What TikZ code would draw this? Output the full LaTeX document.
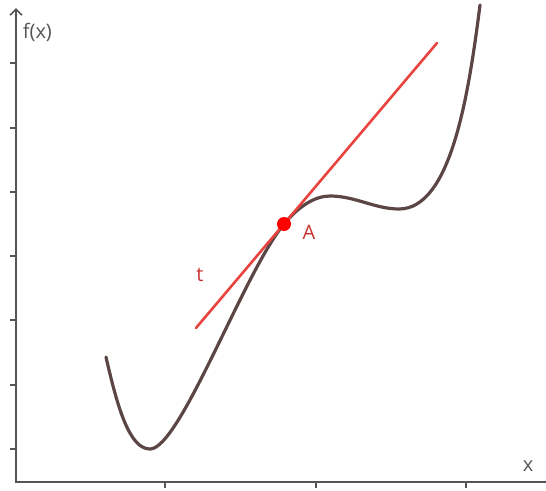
\documentclass[tikz,border=0pt]{standalone}
\usepackage{fontspec}
\setmainfont{Open Sans}
\usetikzlibrary{arrows.meta}
\definecolor{curva}{HTML}{5C4545}
\definecolor{tangente}{HTML}{E8433E}
\definecolor{etiqueta}{HTML}{C8332E}
\definecolor{eje}{HTML}{555555}

\begin{document}
\begin{tikzpicture}[x=1pt, y=-1pt, >={Straight Barb[length=6pt,width=12pt]}, line width=1.6pt]
        \useasboundingbox (0,0) rectangle (546,490);
        % Ejes coordenados
        \draw[->, eje] (16,483) -- (16,8);
        \draw[eje] (16,482) -- (546,482);
        
        % Marcas de los ejes
        \foreach \y in {63,128,192,256,320,385,449} \draw[eje] (10,\y) -- (16,\y);
        \foreach \x in {165,316,466} \draw[eje] (\x,482) -- (\x,488);
        \node[eje, anchor=west, inner sep=0pt, font=\fontsize{20}{20}\selectfont] (fx) at (22,32) {f(x)};
        \node[eje, inner sep=0pt, font=\fontsize{20}{20}\selectfont] (ex) at (528,466) {x};
        
        % Grafica de la funcion
        \draw[curva, line width=3.2pt, line cap=round] (106,357)
            .. controls (118,410) and (130,449) .. (150,449)
            .. controls (180,449) and (244,272) .. (284,224)
            .. controls (299,206) and (315,196) .. (330,196)
            .. controls (355,196) and (375,209) .. (399,209)
            .. controls (450,209) and (468,100) .. (480,5);
        
        % Recta tangente t en el punto A
        \coordinate (tlo) at (196,328);
        \coordinate (thi) at (437,43);
        \draw[tangente, line width=2.6pt, line cap=round] (tlo) -- (thi);
        \node[circle, fill=red, inner sep=0pt, minimum size=14pt] (A) at (284,224) {};
        \node[etiqueta, inner sep=0pt, font=\fontsize{20}{20}\selectfont] (lA) at (309,232) {A};
        \node[etiqueta, inner sep=0pt, font=\fontsize{20}{20}\selectfont] (lt) at (200,275) {t};
    \end{tikzpicture}
\end{document}
